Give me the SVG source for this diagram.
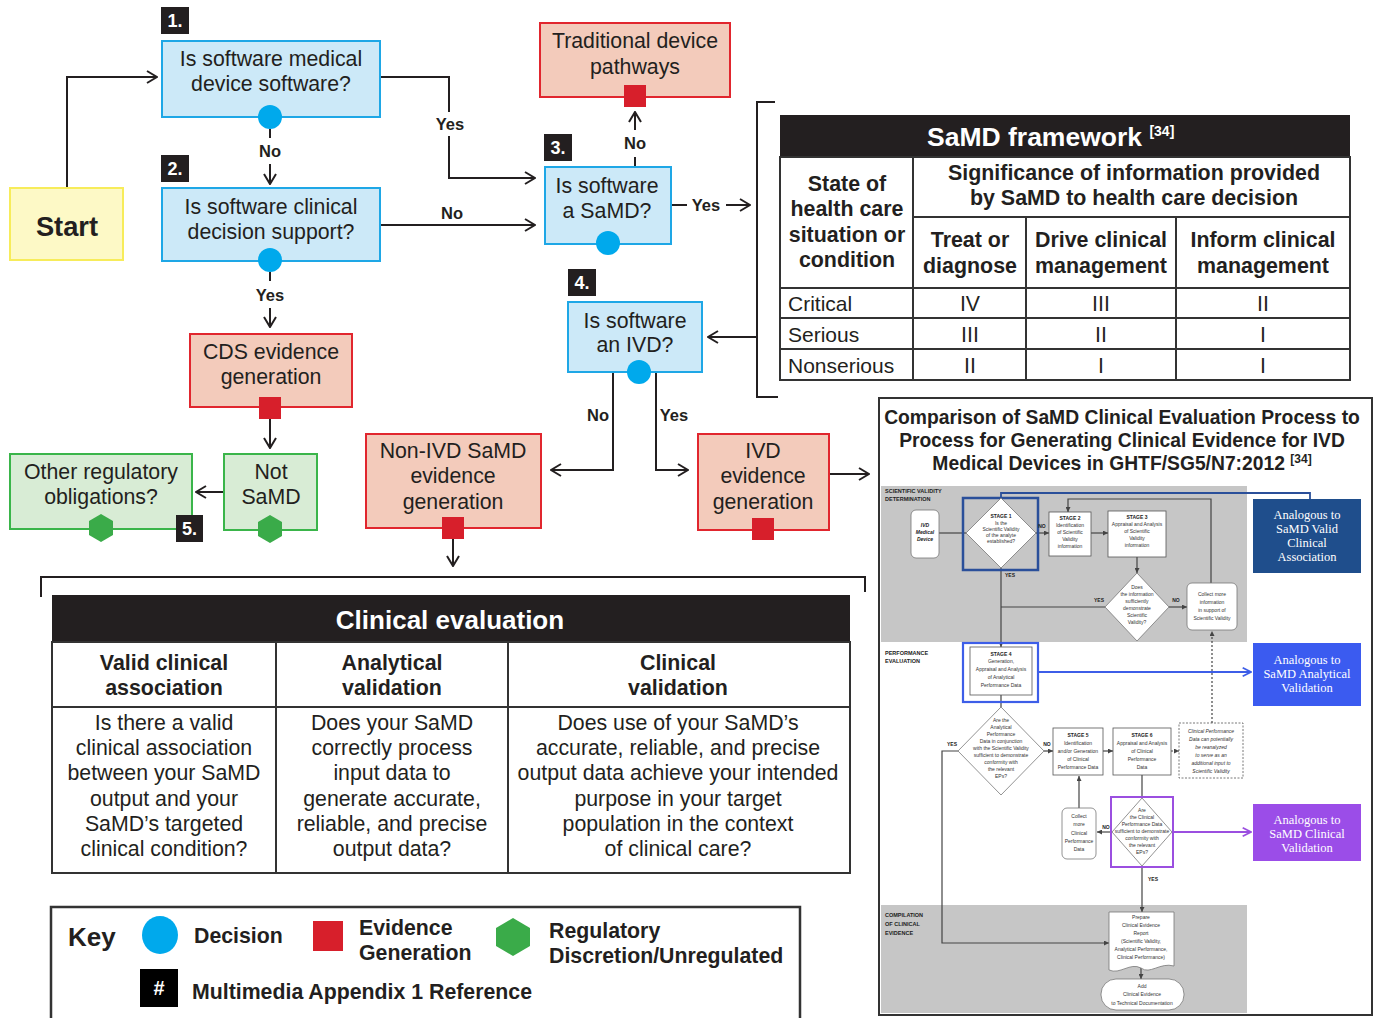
<svg xmlns="http://www.w3.org/2000/svg" width="1378" height="1018" viewBox="0 0 1378 1018">
<defs>
<style>
text{font-family:"Liberation Sans",Arial,sans-serif;fill:#231f20}
.m{font-size:21.3px;text-anchor:middle}
.mb{font-size:21.4px;text-anchor:middle;font-weight:bold}
.lb{font-size:16.5px;text-anchor:middle;font-weight:bold}
.bd{font-size:18px;font-weight:bold;fill:#fff;text-anchor:middle}
.bn{fill:#cce9f8;stroke:#1ea7e6;stroke-width:2}
.rn{fill:#f3cbbb;stroke:#e1262e;stroke-width:2}
.gn{fill:#d8ecd5;stroke:#3ab54a;stroke-width:2}
.ln{fill:none;stroke:#231f20;stroke-width:2}
.tb{stroke:#333;stroke-width:2;fill:none}
.t{font-size:5px;text-anchor:middle;fill:#333}
.tk{font-size:5px;text-anchor:middle;fill:#222;font-weight:bold}
.ts{font-size:5.5px;font-weight:bold;fill:#222}
.ti{font-size:5px;text-anchor:middle;fill:#333;font-style:italic}
.il{fill:none;stroke:#444;stroke-width:1.2}
.an{font-family:"Liberation Serif","Times New Roman",serif;font-size:12.5px;fill:#fff;text-anchor:middle}
.kb{font-size:21.3px;font-weight:bold}
</style>
<marker id="ar" viewBox="0 0 12 14" refX="11" refY="7" markerWidth="12" markerHeight="14" markerUnits="userSpaceOnUse" orient="auto"><path d="M1,1 L11,7 L1,13" fill="none" stroke="#231f20" stroke-width="2"/></marker>
<marker id="sa" viewBox="0 0 6 6" refX="6" refY="3" markerWidth="5" markerHeight="5" markerUnits="userSpaceOnUse" orient="auto"><path d="M0,0 L6,3 L0,6 z" fill="#444"/></marker>
<marker id="ba" viewBox="0 0 12 12" refX="11" refY="6" markerWidth="10" markerHeight="10" markerUnits="userSpaceOnUse" orient="auto"><path d="M1,1 L11,6 L1,11" fill="none" stroke="#3d5ee8" stroke-width="2"/></marker>
<marker id="pa" viewBox="0 0 12 12" refX="11" refY="6" markerWidth="10" markerHeight="10" markerUnits="userSpaceOnUse" orient="auto"><path d="M1,1 L11,6 L1,11" fill="none" stroke="#9b4fe0" stroke-width="2"/></marker>
<circle id="dc" r="12" fill="#00a9ec"/>
<rect id="rs" x="-11" y="-11" width="22" height="22" fill="#d71f2b"/>
<polygon id="hx" points="0,-14 12,-7 12,7 0,14 -12,7 -12,-7" fill="#3aab49"/>
</defs>
<rect width="1378" height="1018" fill="#fff"/>

<g id="connectors">
<polyline class="ln" points="67,188 67,77 157,77" marker-end="url(#ar)"/>
<line class="ln" x1="270" y1="129" x2="270" y2="138"/>
<line class="ln" x1="270" y1="164" x2="270" y2="184" marker-end="url(#ar)"/>
<line class="ln" x1="270" y1="272" x2="270" y2="281"/>
<line class="ln" x1="270" y1="308" x2="270" y2="327" marker-end="url(#ar)"/>
<polyline class="ln" points="380,77 449,77 449,112"/>
<polyline class="ln" points="449,136 449,178 535,178" marker-end="url(#ar)"/>
<line class="ln" x1="380" y1="225" x2="535" y2="225" marker-end="url(#ar)"/>
<line class="ln" x1="635" y1="167" x2="635" y2="157"/>
<line class="ln" x1="635" y1="130" x2="635" y2="112" marker-end="url(#ar)"/>
<line class="ln" x1="671" y1="205" x2="687" y2="205"/>
<line class="ln" x1="726" y1="205" x2="750" y2="205" marker-end="url(#ar)"/>
<polyline class="ln" points="775,102 757,102 757,397 778,397"/>
<line class="ln" x1="757" y1="337" x2="708" y2="337" marker-end="url(#ar)"/>
<line class="ln" x1="270" y1="419" x2="270" y2="448" marker-end="url(#ar)"/>
<line class="ln" x1="224" y1="492" x2="196" y2="492" marker-end="url(#ar)"/>
<polyline class="ln" points="613,372 613,470 551,470" marker-end="url(#ar)"/>
<polyline class="ln" points="656,372 656,470 688,470" marker-end="url(#ar)"/>
<line class="ln" x1="453" y1="539" x2="453" y2="566" marker-end="url(#ar)"/>
<line class="ln" x1="829" y1="474" x2="869" y2="474" marker-end="url(#ar)"/>
<polyline class="ln" points="41,597 41,577 865,577 865,592"/>
</g>

<g id="labels">
<text class="lb" x="270" y="157">No</text>
<text class="lb" x="270" y="301">Yes</text>
<text class="lb" x="450" y="130">Yes</text>
<text class="lb" x="452" y="219">No</text>
<text class="lb" x="635" y="149">No</text>
<text class="lb" x="706" y="211">Yes</text>
<text class="lb" x="598" y="421">No</text>
<text class="lb" x="674" y="421">Yes</text>
</g>

<g id="start">
<rect x="10" y="188" width="113" height="72" fill="#fdf9c6" stroke="#f7ec5a" stroke-width="2"/>
<text x="67" y="236" font-size="27.3" font-weight="bold" text-anchor="middle">Start</text>
</g>

<g id="q1">
<rect x="161" y="7" width="28" height="27" fill="#231f20"/><text class="bd" x="175" y="27">1.</text>
<rect class="bn" x="162" y="41" width="218" height="76"/>
<text class="m" x="271" y="66">Is software medical</text>
<text class="m" x="271" y="91">device software?</text>
<use href="#dc" x="270" y="117"/>
</g>

<g id="q2">
<rect x="161" y="155" width="28" height="27" fill="#231f20"/><text class="bd" x="175" y="175">2.</text>
<rect class="bn" x="162" y="188" width="218" height="73"/>
<text class="m" x="271" y="214">Is software clinical</text>
<text class="m" x="271" y="239">decision support?</text>
<use href="#dc" x="270" y="260"/>
</g>

<g id="cds">
<rect class="rn" x="190" y="334" width="162" height="73"/>
<text class="m" x="271" y="359">CDS evidence</text>
<text class="m" x="271" y="384">generation</text>
<use href="#rs" x="270" y="408"/>
</g>

<g id="notsamd">
<rect class="gn" x="224" y="454" width="93" height="76"/>
<text class="m" x="271" y="479">Not</text>
<text class="m" x="271" y="504">SaMD</text>
<use href="#hx" x="270" y="529"/>
</g>

<g id="other">
<rect class="gn" x="10" y="454" width="182" height="75"/>
<text class="m" x="101" y="479">Other regulatory</text>
<text class="m" x="101" y="504">obligations?</text>
<use href="#hx" x="101" y="528"/>
<rect x="176" y="515" width="27" height="27" fill="#231f20"/><text class="bd" x="189.5" y="535">5.</text>
</g>

<g id="q3">
<rect x="544" y="134" width="28" height="27" fill="#231f20"/><text class="bd" x="558" y="154">3.</text>
<rect class="bn" x="545" y="167" width="126" height="77"/>
<text class="m" x="607" y="193">Is software</text>
<text class="m" x="607" y="218">a SaMD?</text>
<use href="#dc" x="608" y="243"/>
</g>

<g id="traditional">
<rect class="rn" x="540" y="23" width="190" height="74"/>
<text class="m" x="635" y="48">Traditional device</text>
<text class="m" x="635" y="74">pathways</text>
<use href="#rs" x="635" y="96"/>
</g>

<g id="q4">
<rect x="568" y="269" width="28" height="27" fill="#231f20"/><text class="bd" x="582" y="289">4.</text>
<rect class="bn" x="568" y="302" width="134" height="70"/>
<text class="m" x="635" y="328">Is software</text>
<text class="m" x="635" y="352">an IVD?</text>
<use href="#dc" x="639" y="372"/>
</g>

<g id="nonivd">
<rect class="rn" x="366" y="434" width="175" height="94"/>
<text class="m" x="453" y="458">Non-IVD SaMD</text>
<text class="m" x="453" y="483">evidence</text>
<text class="m" x="453" y="509">generation</text>
<use href="#rs" x="453" y="528"/>
</g>

<g id="ivd">
<rect class="rn" x="698" y="434" width="131" height="96"/>
<text class="m" x="763" y="458">IVD</text>
<text class="m" x="763" y="483">evidence</text>
<text class="m" x="763" y="509">generation</text>
<use href="#rs" x="763" y="529"/>
</g>

<g id="framework">
<rect x="780" y="115" width="570" height="42" fill="#231f20"/>
<text x="927" y="146" font-size="26.5" font-weight="bold" style="fill:#fff">SaMD framework <tspan font-size="14" dy="-10" style="fill:#fff">[34]</tspan></text>
<rect class="tb" x="780" y="157" width="570" height="223"/>
<line class="tb" x1="913" y1="157" x2="913" y2="380"/>
<line class="tb" x1="913" y1="217" x2="1350" y2="217"/>
<line class="tb" x1="1026" y1="217" x2="1026" y2="380"/>
<line class="tb" x1="1176" y1="217" x2="1176" y2="380"/>
<line class="tb" x1="780" y1="288" x2="1350" y2="288"/>
<line class="tb" x1="780" y1="318" x2="1350" y2="318"/>
<line class="tb" x1="780" y1="349" x2="1350" y2="349"/>
<text class="mb" x="847" y="191">State of</text>
<text class="mb" x="847" y="216">health care</text>
<text class="mb" x="847" y="242">situation or</text>
<text class="mb" x="847" y="267">condition</text>
<text class="mb" x="1134" y="180">Significance of information provided</text>
<text class="mb" x="1134" y="205">by SaMD to health care decision</text>
<text class="mb" x="970" y="247">Treat or</text>
<text class="mb" x="970" y="273">diagnose</text>
<text class="mb" x="1101" y="247">Drive clinical</text>
<text class="mb" x="1101" y="273">management</text>
<text class="mb" x="1263" y="247">Inform clinical</text>
<text class="mb" x="1263" y="273">management</text>
<text x="788" y="311" font-size="21">Critical</text>
<text x="788" y="342" font-size="21">Serious</text>
<text x="788" y="373" font-size="21">Nonserious</text>
<text class="m" x="970" y="311">IV</text><text class="m" x="1101" y="311">III</text><text class="m" x="1263" y="311">II</text>
<text class="m" x="970" y="342">III</text><text class="m" x="1101" y="342">II</text><text class="m" x="1263" y="342">I</text>
<text class="m" x="970" y="373">II</text><text class="m" x="1101" y="373">I</text><text class="m" x="1263" y="373">I</text>
</g>

<g id="clinical-evaluation">
<rect x="52" y="595" width="798" height="47" fill="#231f20"/>
<text x="450" y="629" font-size="26" font-weight="bold" text-anchor="middle" style="fill:#fff">Clinical evaluation</text>
<rect class="tb" x="52" y="642" width="798" height="231"/>
<line class="tb" x1="276" y1="642" x2="276" y2="873"/>
<line class="tb" x1="508" y1="642" x2="508" y2="873"/>
<line class="tb" x1="52" y1="707" x2="850" y2="707"/>
<text class="mb" x="164" y="670">Valid clinical</text>
<text class="mb" x="164" y="695">association</text>
<text class="mb" x="392" y="670">Analytical</text>
<text class="mb" x="392" y="695">validation</text>
<text class="mb" x="678" y="670">Clinical</text>
<text class="mb" x="678" y="695">validation</text>
<text class="m" x="164" y="730">Is there a valid</text>
<text class="m" x="164" y="755">clinical association</text>
<text class="m" x="164" y="780">between your SaMD</text>
<text class="m" x="164" y="806">output and your</text>
<text class="m" x="164" y="831">SaMD’s targeted</text>
<text class="m" x="164" y="856">clinical condition?</text>
<text class="m" x="392" y="730">Does your SaMD</text>
<text class="m" x="392" y="755">correctly process</text>
<text class="m" x="392" y="780">input data to</text>
<text class="m" x="392" y="806">generate accurate,</text>
<text class="m" x="392" y="831">reliable, and precise</text>
<text class="m" x="392" y="856">output data?</text>
<text class="m" x="678" y="730">Does use of your SaMD’s</text>
<text class="m" x="678" y="755">accurate, reliable, and precise</text>
<text class="m" x="678" y="780">output data achieve your intended</text>
<text class="m" x="678" y="806">purpose in your target</text>
<text class="m" x="678" y="831">population in the context</text>
<text class="m" x="678" y="856">of clinical care?</text>
</g>

<g id="key">
<polyline class="tb" points="51,1018 51,907 800,907 800,1018" style="stroke-width:2.5"/>
<text x="68" y="946" font-size="26" font-weight="bold">Key</text>
<ellipse cx="160" cy="935" rx="18" ry="19" fill="#00a9ec"/>
<text class="kb" x="194" y="943">Decision</text>
<rect x="313" y="921" width="30" height="30" fill="#d71f2b"/>
<text class="kb" x="359" y="935">Evidence</text>
<text class="kb" x="359" y="960">Generation</text>
<polygon points="513,918 530,928 530,946 513,956 496,946 496,928" fill="#3aab49"/>
<text class="kb" x="549" y="938">Regulatory</text>
<text class="kb" x="549" y="963">Discretion/Unregulated</text>
<rect x="140" y="969" width="38" height="38" fill="#000"/>
<text x="159" y="995" font-size="20" font-weight="bold" text-anchor="middle" style="fill:#fff">#</text>
<text class="kb" x="192" y="999">Multimedia Appendix 1 Reference</text>
</g>

<g id="comparison">
<rect x="879" y="398" width="493" height="617" fill="#fff" stroke="#333" stroke-width="2"/>
<text x="1122" y="424" font-size="19.3" font-weight="bold" text-anchor="middle">Comparison of SaMD Clinical Evaluation Process to</text>
<text x="1122" y="447" font-size="19.3" font-weight="bold" text-anchor="middle">Process for Generating Clinical Evidence for IVD</text>
<text x="1122" y="470" font-size="19.3" font-weight="bold" text-anchor="middle">Medical Devices in GHTF/SG5/N7:2012 <tspan font-size="12" dy="-7">[34]</tspan></text>
<rect x="881" y="486" width="366" height="156" fill="#c6c6c6"/>
<rect x="881" y="905" width="366" height="108" fill="#c6c6c6"/>
<text class="ts" x="885" y="493">SCIENTIFIC VALIDITY</text>
<text class="ts" x="885" y="501">DETERMINATION</text>
<text class="ts" x="885" y="655">PERFORMANCE</text>
<text class="ts" x="885" y="663">EVALUATION</text>
<text class="ts" x="885" y="917">COMPILATION</text>
<text class="ts" x="885" y="926">OF CLINICAL</text>
<text class="ts" x="885" y="935">EVIDENCE</text>

<g id="inset-connectors">
<line class="il" x1="939" y1="533" x2="966" y2="533"/>
<line class="il" x1="1036" y1="533" x2="1049" y2="533" marker-end="url(#sa)"/>
<line class="il" x1="1091" y1="533" x2="1108" y2="533" marker-end="url(#sa)"/>
<line class="il" x1="1137" y1="557" x2="1137" y2="573" marker-end="url(#sa)"/>
<line class="il" x1="1105" y1="607" x2="1001" y2="607"/>
<line class="il" x1="1169" y1="607" x2="1187" y2="607" marker-end="url(#sa)"/>
<polyline class="il" points="1211,583 1211,499 1068,499 1068,512" marker-end="url(#sa)"/>
<line class="il" x1="1001" y1="568" x2="1001" y2="647" marker-end="url(#sa)"/>
<line class="il" x1="1001" y1="695" x2="1001" y2="707"/>
<polyline points="1001,498 1001,493 1310,493 1310,499" fill="none" stroke="#2a4f9a" stroke-width="1.8"/>
<line x1="1038" y1="672" x2="1251" y2="672" stroke="#3d5ee8" stroke-width="1.8" marker-end="url(#ba)"/>
<polyline class="il" points="958,751 942,751 942,943 1109,943" marker-end="url(#sa)"/>
<line class="il" x1="1044" y1="751" x2="1053" y2="751" marker-end="url(#sa)"/>
<line class="il" x1="1103" y1="751" x2="1113" y2="751" marker-end="url(#sa)"/>
<line class="il" x1="1171" y1="751" x2="1179" y2="751" stroke-dasharray="2,1.5" marker-end="url(#sa)"/>
<line class="il" x1="1212" y1="723" x2="1212" y2="631" stroke-dasharray="2,2" marker-end="url(#sa)"/>
<line class="il" x1="1142" y1="775" x2="1142" y2="798"/>
<line class="il" x1="1079" y1="808" x2="1079" y2="776" marker-end="url(#sa)"/>
<line class="il" x1="1112" y1="832" x2="1097" y2="832" marker-end="url(#sa)"/>
<line x1="1173" y1="832" x2="1251" y2="832" stroke="#9b4fe0" stroke-width="1.8" marker-end="url(#pa)"/>
<line class="il" x1="1142" y1="866" x2="1142" y2="912" marker-end="url(#sa)"/>
<line class="il" x1="1141" y1="968" x2="1141" y2="979" marker-end="url(#sa)"/>
</g>

<g id="ivd-device">
<rect x="911" y="510" width="28" height="48" rx="5" fill="#fff" stroke="#777" stroke-width="0.8"/>
<text class="tk" x="925" y="527" font-style="italic">IVD</text>
<text class="tk" x="925" y="534" font-style="italic">Medical</text>
<text class="tk" x="925" y="541" font-style="italic">Device</text>
</g>
<g id="stage1">
<rect x="963" y="498" width="75" height="72" fill="none" stroke="#2a4f9a" stroke-width="2.5"/>
<polygon points="1001,498 1036,533 1001,568 966,533" fill="#fff" stroke="#777" stroke-width="0.8"/>
<text class="tk" x="1001" y="518">STAGE 1</text>
<text class="t" x="1001" y="525">Is the</text>
<text class="t" x="1001" y="531">Scientific Validity</text>
<text class="t" x="1001" y="537">of the analyte</text>
<text class="t" x="1001" y="543">established?</text>
<text class="tk" x="1042" y="528">NO</text>
<text class="tk" x="1010" y="577">YES</text>
</g>
<g id="stage2">
<rect x="1049" y="512" width="42" height="44" fill="#fff" stroke="#555" stroke-width="0.8"/>
<text class="tk" x="1070" y="520">STAGE 2</text>
<text class="t" x="1070" y="527">Identification</text>
<text class="t" x="1070" y="534">of Scientific</text>
<text class="t" x="1070" y="541">Validity</text>
<text class="t" x="1070" y="548">information</text>
</g>
<g id="stage3">
<rect x="1108" y="511" width="58" height="46" fill="#fff" stroke="#555" stroke-width="0.8"/>
<text class="tk" x="1137" y="519">STAGE 3</text>
<text class="t" x="1137" y="526">Appraisal and Analysis</text>
<text class="t" x="1137" y="533">of Scientific</text>
<text class="t" x="1137" y="540">Validity</text>
<text class="t" x="1137" y="547">information</text>
</g>
<g id="sv-decision">
<polygon points="1137,573 1169,607 1137,641 1105,607" fill="#fff" stroke="#777" stroke-width="0.8"/>
<text class="t" x="1137" y="589">Does</text>
<text class="t" x="1137" y="596">the information</text>
<text class="t" x="1137" y="603">sufficiently</text>
<text class="t" x="1137" y="610">demonstrate</text>
<text class="t" x="1137" y="617">Scientific</text>
<text class="t" x="1137" y="624">Validity?</text>
<text class="tk" x="1099" y="602">YES</text>
<text class="tk" x="1176" y="602">NO</text>
</g>
<g id="collect-sv">
<rect x="1187" y="583" width="50" height="47" rx="5" fill="#fff" stroke="#777" stroke-width="0.8"/>
<text class="t" x="1212" y="596">Collect more</text>
<text class="t" x="1212" y="604">information</text>
<text class="t" x="1212" y="612">in support of</text>
<text class="t" x="1212" y="620">Scientific Validity</text>
</g>
<g id="analogous-vca">
<rect x="1253" y="499" width="108" height="74" fill="#1f4e8c"/>
<text class="an" x="1307" y="519">Analogous to</text>
<text class="an" x="1307" y="533">SaMD Valid</text>
<text class="an" x="1307" y="547">Clinical</text>
<text class="an" x="1307" y="561">Association</text>
</g>
<g id="stage4">
<rect x="963" y="643" width="75" height="59" fill="none" stroke="#3d5ee8" stroke-width="2.2"/>
<rect x="970" y="647" width="62" height="48" fill="#fff" stroke="#555" stroke-width="0.8"/>
<text class="tk" x="1001" y="656">STAGE 4</text>
<text class="t" x="1001" y="663">Generation,</text>
<text class="t" x="1001" y="671">Appraisal and Analysis</text>
<text class="t" x="1001" y="679">of Analytical</text>
<text class="t" x="1001" y="687">Performance Data</text>
</g>
<g id="analogous-av">
<rect x="1253" y="643" width="108" height="63" fill="#3b5bf0"/>
<text class="an" x="1307" y="664">Analogous to</text>
<text class="an" x="1307" y="678">SaMD Analytical</text>
<text class="an" x="1307" y="692">Validation</text>
</g>
<g id="ap-decision">
<polygon points="1001,707 1044,751 1001,795 958,751" fill="#fff" stroke="#777" stroke-width="0.8"/>
<text class="t" x="1001" y="722" font-size="4.6">Are the</text>
<text class="t" x="1001" y="729" font-size="4.6">Analytical</text>
<text class="t" x="1001" y="736" font-size="4.6">Performance</text>
<text class="t" x="1001" y="743" font-size="4.6">Data in conjunction</text>
<text class="t" x="1001" y="750" font-size="4.6">with the Scientific Validity</text>
<text class="t" x="1001" y="757" font-size="4.6">sufficient to demonstrate</text>
<text class="t" x="1001" y="764" font-size="4.6">conformity with</text>
<text class="t" x="1001" y="771" font-size="4.6">the relevant</text>
<text class="t" x="1001" y="778" font-size="4.6">EPs?</text>
<text class="tk" x="952" y="746">YES</text>
<text class="tk" x="1047" y="746">NO</text>
</g>
<g id="stage5">
<rect x="1053" y="728" width="50" height="47" fill="#fff" stroke="#555" stroke-width="0.8"/>
<text class="tk" x="1078" y="737">STAGE 5</text>
<text class="t" x="1078" y="745">Identification</text>
<text class="t" x="1078" y="753">and/or Generation</text>
<text class="t" x="1078" y="761">of Clinical</text>
<text class="t" x="1078" y="769">Performance Data</text>
</g>
<g id="stage6">
<rect x="1113" y="728" width="58" height="47" fill="#fff" stroke="#555" stroke-width="0.8"/>
<text class="tk" x="1142" y="737">STAGE 6</text>
<text class="t" x="1142" y="745">Appraisal and Analysis</text>
<text class="t" x="1142" y="753">of Clinical</text>
<text class="t" x="1142" y="761">Performance</text>
<text class="t" x="1142" y="769">Data</text>
</g>
<g id="note">
<rect x="1179" y="723" width="64" height="55" fill="#fff" stroke="#555" stroke-width="0.8" stroke-dasharray="2,1.5"/>
<text class="ti" x="1211" y="733">Clinical Performance</text>
<text class="ti" x="1211" y="741">Data can potentially</text>
<text class="ti" x="1211" y="749">be reanalyzed</text>
<text class="ti" x="1211" y="757">to serve as an</text>
<text class="ti" x="1211" y="765">additional input to</text>
<text class="ti" x="1211" y="773">Scientific Validity</text>
</g>
<g id="collect-cp">
<rect x="1062" y="808" width="34" height="51" rx="5" fill="#fff" stroke="#777" stroke-width="0.8"/>
<text class="t" x="1079" y="818">Collect</text>
<text class="t" x="1079" y="826">more</text>
<text class="t" x="1079" y="835">Clinical</text>
<text class="t" x="1079" y="843">Performance</text>
<text class="t" x="1079" y="851">Data</text>
</g>
<g id="cp-decision">
<rect x="1111" y="797" width="62" height="70" fill="none" stroke="#9b4fe0" stroke-width="2"/>
<polygon points="1142,798 1172,832 1142,866 1112,832" fill="#fff" stroke="#777" stroke-width="0.8"/>
<text class="t" x="1142" y="812" font-size="4.6">Are</text>
<text class="t" x="1142" y="819" font-size="4.6">the Clinical</text>
<text class="t" x="1142" y="826" font-size="4.6">Performance Data</text>
<text class="t" x="1142" y="833" font-size="4.6">sufficient to demonstrate</text>
<text class="t" x="1142" y="840" font-size="4.6">conformity with</text>
<text class="t" x="1142" y="847" font-size="4.6">the relevant</text>
<text class="t" x="1142" y="854" font-size="4.6">EPs?</text>
<text class="tk" x="1106" y="829">NO</text>
<text class="tk" x="1153" y="881">YES</text>
</g>
<g id="analogous-cv">
<rect x="1253" y="804" width="108" height="57" fill="#9b4de8"/>
<text class="an" x="1307" y="824">Analogous to</text>
<text class="an" x="1307" y="838">SaMD Clinical</text>
<text class="an" x="1307" y="852">Validation</text>
</g>
<g id="prepare">
<path d="M1109,912 H1174 V966 C1160,962 1150,975 1141,968 C1130,962 1120,975 1109,970 Z" fill="#fff" stroke="#777" stroke-width="0.8"/>
<text class="t" x="1141" y="919">Prepare</text>
<text class="t" x="1141" y="927">Clinical Evidence</text>
<text class="t" x="1141" y="935">Report</text>
<text class="t" x="1141" y="943">(Scientific Validity,</text>
<text class="t" x="1141" y="951">Analytical Performance,</text>
<text class="t" x="1141" y="959">Clinical Performance)</text>
</g>
<g id="add">
<rect x="1101" y="979" width="83" height="31" rx="15" fill="#fff" stroke="#777" stroke-width="0.8"/>
<text class="t" x="1142" y="988">Add</text>
<text class="t" x="1142" y="996">Clinical Evidence</text>
<text class="t" x="1142" y="1005">to Technical Documentation</text>
</g>
</g>
</svg>
